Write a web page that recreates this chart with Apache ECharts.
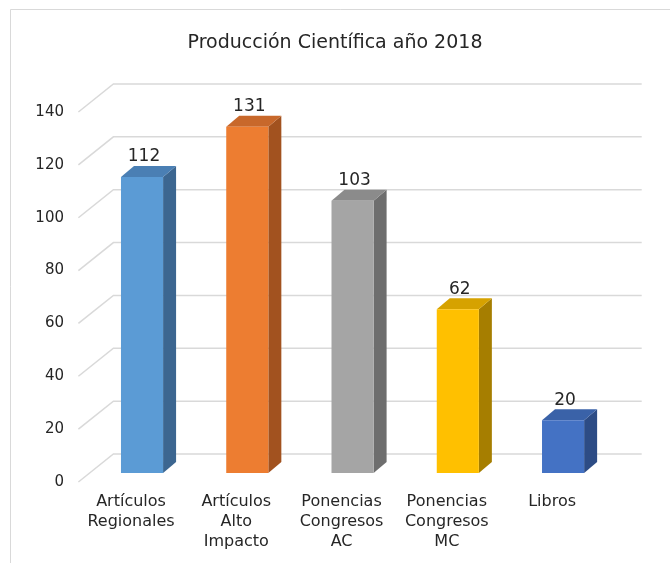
<!DOCTYPE html>
<html>
<head>
<meta charset="utf-8">
<script src="https://cdn.jsdelivr.net/npm/echarts@6/dist/echarts.min.js"></script>
<style>html,body{margin:0;padding:0;background:#fff}#c{width:670px;height:563px}</style>
</head>
<body>
<div id="c"></div>
<script>
var categories = ['Artículos\nRegionales', 'Artículos\nAlto\nImpacto', 'Ponencias\nCongresos\nAC', 'Ponencias\nCongresos\nMC', 'Libros'];
var values = [112, 131, 103, 62, 20];
var yTicks = [0, 20, 40, 60, 80, 100, 120, 140];
var frontColors = ['#5B9BD5', '#ED7D31', '#A5A5A5', '#FFC000', '#4472C4'];
var topColors = ['#4A7FB4', '#C8682B', '#8B8B8B', '#D6A200', '#3A62A8'];
var sideColors = ['#3C6690', '#A2521F', '#6E6E6E', '#A67E00', '#2D4C85'];
var titleText = 'Producción Científica año 2018';

var FONT = "'DejaVu Sans', Verdana, sans-serif";
var TXT = '#262626';
var DX = 13, DY = -11;          // bar depth
var FX = -11, FY = 9;           // offset from bar plane to front floor edge
var BX = 24, BY = -19;          // offset from bar plane to back wall

var chart = echarts.init(document.getElementById('c'), null, {renderer: 'canvas'});
chart.setOption({
  backgroundColor: '#ffffff',
  animation: false,
  title: {
    text: titleText, left: 'center', top: 29,
    textStyle: {fontFamily: FONT, fontSize: 19, fontWeight: 'normal', color: TXT}
  },
  graphic: [{
    type: 'rect', shape: {x: 10.5, y: 9.5, width: 900, height: 800},
    style: {fill: 'none', stroke: '#D9D9D9', lineWidth: 1}, silent: true, z: -1
  }],
  grid: {left: 89.4, right: 54.3, top: 103, bottom: 90},
  xAxis: {
    type: 'category', data: categories,
    axisLine: {show: false}, axisTick: {show: false}, axisLabel: {show: false}, splitLine: {show: false}
  },
  yAxis: {
    type: 'value', min: 0, max: 140, interval: 20,
    axisLine: {show: false}, axisTick: {show: false}, axisLabel: {show: false}, splitLine: {show: false}
  },
  series: [
    {
      type: 'custom', z: 1, silent: true,
      data: yTicks.map(function (v) { return [0, v]; }),
      encode: {x: 0, y: 1},
      renderItem: function (params, api) {
        var cs = params.coordSys;
        var y = api.coord([0, api.value(1)])[1];
        var x = cs.x;
        var lineStyle = {stroke: '#D9D9D9', lineWidth: 1.5, fill: 'none'};
        return {
          type: 'group',
          children: [
            {type: 'polyline', shape: {points: [[x + FX, y + FY], [x + BX, y + BY], [cs.x + cs.width + BX + 2, y + BY]]}, style: lineStyle},
            {type: 'text', style: {text: String(api.value(1)), x: 64, y: y + FY, align: 'right', verticalAlign: 'middle',
              fontFamily: FONT, fontSize: 15, fill: TXT}}
          ]
        };
      }
    },
    {
      type: 'custom', z: 2, silent: true,
      data: values.map(function (v, i) { return [i, v]; }),
      encode: {x: 0, y: 1},
      renderItem: function (params, api) {
        var i = api.value(0);
        var top = api.coord([i, api.value(1)]);
        var base = api.coord([i, 0]);
        var w = api.size([1, 0])[0] * 0.4;
        var x0 = top[0] - w / 2, x1 = top[0] + w / 2;
        var yt = top[1], yb = base[1];
        return {
          type: 'group',
          children: [
            {type: 'polygon', shape: {points: [[x1, yt], [x1 + DX, yt + DY], [x1 + DX, yb + DY], [x1, yb]]},
              style: {fill: sideColors[i]}},
            {type: 'polygon', shape: {points: [[x0, yt], [x0 + DX, yt + DY], [x1 + DX, yt + DY], [x1, yt]]},
              style: {fill: topColors[i]}},
            {type: 'rect', shape: {x: x0, y: yt, width: w, height: yb - yt},
              style: {fill: frontColors[i]}},
            {type: 'text', style: {text: String(api.value(1)), x: top[0] + 2, y: yt - 20, align: 'center', verticalAlign: 'middle',
              fontFamily: FONT, fontSize: 17, fill: TXT}},
            {type: 'text', style: {text: categories[i], x: top[0] + FX, y: yb + 19, align: 'center', verticalAlign: 'top',
              fontFamily: FONT, fontSize: 16, lineHeight: 20, fill: TXT}}
          ]
        };
      }
    }
  ]
});
</script>
</body>
</html>
